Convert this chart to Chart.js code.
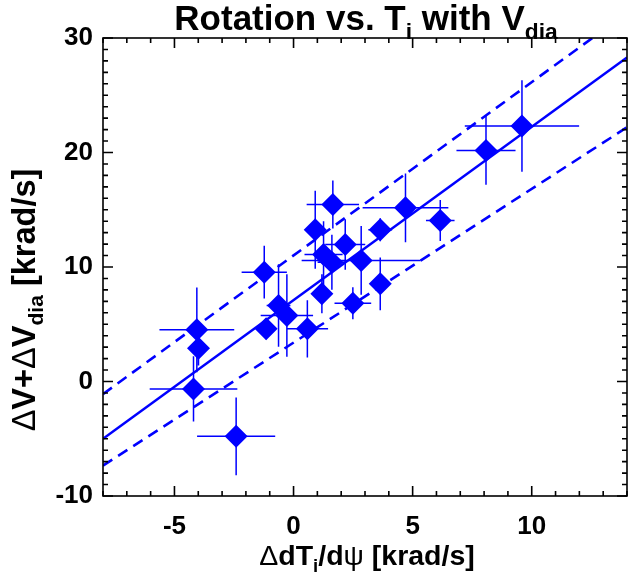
<!DOCTYPE html>
<html lang="en">
  <head>
    <meta charset="UTF-8" />
    <title>Rotation vs. Ti with Vdia</title>
    <script src="https://cdn.jsdelivr.net/npm/chart.js"></script>
    <style>
      body { margin: 0; background: #fff; }
      .chart-box { width: 628px; height: 573px; }
    </style>
  </head>
  <body>
    <div class="chart-box">
      <canvas id="myChart" width="628" height="573"></canvas>
    </div>
    <script>
      const xValues = [-2.41, -4.2, -3.99, -4.06, -1.15, -1.23, -0.63, -0.28, 0.58, 1.19, 0.91, 1.65,
        1.26, 1.61, 2.17, 2.84, 2.49, 3.64, 3.64, 4.7, 6.16, 8.08, 9.59];
      const yValues = [-4.79, -0.65, 2.9, 4.51, 4.6, 9.55, 6.63, 5.76, 4.6, 7.66, 13.25, 15.46,
        11.09, 10.42, 11.97, 10.57, 6.84, 8.53, 13.25, 15.17, 14.06, 20.18, 22.31];
      const xErrors = [1.64, 1.84, 0.3, 1.57, 0.4, 0.95, 0.5, 1.1, 0.87, 0.4, 0.4, 1.1,
        0.8, 0.6, 0.84, 2.5, 0.77, 0.4, 0.5, 1.8, 0.6, 1.24, 2.4];
      const yErrors = [3.4, 2.85, 1.5, 3.7, 0.9, 2.3, 3.6, 3.6, 2.5, 1.7, 3.4, 2.1,
        2.9, 2.4, 2.2, 3.0, 1.4, 2.3, 1.0, 3.0, 1.8, 3.0, 4.0];

      // fit line and the two dashed bounds
      const lineX = [-8, 14];
      const fitY = [-5.0, 28.3];
      const upperY = [-1.1, 32.2];
      const lowerY = [-7.35, 22.2];

      const xTicks = [-5, 0, 5, 10];
      const yTicks = [-10, 0, 10, 20, 30];

      const blue = "rgb(0,0,255)";
      const fontName = "'Liberation Sans', Arial, sans-serif";

      const points = xValues.map((x, i) => ({ x: x, y: yValues[i] }));
      const errData = [];
      xValues.forEach((x, i) => {
        const y = yValues[i];
        errData.push({ x: x - xErrors[i], y: y }, { x: x + xErrors[i], y: y }, { x: x, y: null });
        errData.push({ x: x, y: y - yErrors[i] }, { x: x, y: y + yErrors[i] }, { x: x, y: null });
      });
      const toLine = (ys) => lineX.map((x, i) => ({ x: x, y: ys[i] }));

      // draw text pieces with subscripts, centred on (cx, cy)
      function drawRich(ctx, parts, cx, cy, size, rotate) {
        ctx.save();
        ctx.translate(cx, cy);
        if (rotate) ctx.rotate(-Math.PI / 2);
        ctx.textBaseline = "alphabetic";
        ctx.textAlign = "left";
        ctx.fillStyle = "#000";
        let total = 0;
        const fonts = parts.map((p) => {
          const s = p.sub ? size * 0.65 : size;
          const f = (p.normal ? "" : "bold ") + s + "px " + fontName;
          ctx.font = f;
          const w = ctx.measureText(p.t).width;
          total += w;
          return { f: f, w: w };
        });
        let x = -total / 2;
        parts.forEach((p, i) => {
          ctx.font = fonts[i].f;
          ctx.fillText(p.t, x, p.sub ? size * 0.25 : 0);
          x += fonts[i].w;
        });
        ctx.restore();
      }

      const decoPlugin = {
        id: "deco",
        afterDatasetsDraw(chart) {
          const { ctx, chartArea: a, scales } = chart;
          const xs = scales.x, ys = scales.y;
          ctx.save();
          ctx.strokeStyle = "#000";
          ctx.lineWidth = 1.6;
          ctx.strokeRect(a.left, a.top, a.right - a.left, a.bottom - a.top);
          ctx.beginPath();
          for (let v = Math.ceil(xs.min); v <= xs.max; v++) {
            const px = xs.getPixelForValue(v);
            const len = v % 5 === 0 ? 10 : 5;
            ctx.moveTo(px, a.bottom); ctx.lineTo(px, a.bottom - len);
            ctx.moveTo(px, a.top); ctx.lineTo(px, a.top + len);
          }
          for (let v = Math.ceil(ys.min); v <= ys.max; v++) {
            const py = ys.getPixelForValue(v);
            const len = v % 10 === 0 ? 10 : 5;
            ctx.moveTo(a.left, py); ctx.lineTo(a.left + len, py);
            ctx.moveTo(a.right, py); ctx.lineTo(a.right - len, py);
          }
          ctx.stroke();
          ctx.restore();

          drawRich(ctx, [{ t: "Rotation vs. T" }, { t: "i", sub: true }, { t: " with V" }, { t: "dia", sub: true }],
            366, 30, 35, false);
          drawRich(ctx, [{ t: "\u0394", normal: true }, { t: "dT" }, { t: "i", sub: true }, { t: "/d" },
            { t: "\u03c8", normal: true }, { t: " [krad/s]" }], 367, 565, 28.5, false);
          drawRich(ctx, [{ t: "\u0394", normal: true }, { t: "V+" }, { t: "\u0394", normal: true }, { t: "V" },
            { t: "dia", sub: true }, { t: " [krad/s]" }], 35, 300, 32.5, true);
        },
      };

      const ctx = document.getElementById("myChart");
      new Chart(ctx, {
        type: "scatter",
        data: {
          datasets: [
            {
              data: points,
              pointStyle: "rectRot",
              pointRadius: 11.5,
              pointHoverRadius: 11.5,
              backgroundColor: blue,
              borderWidth: 0,
            },
            {
              data: errData,
              showLine: true,
              borderColor: blue,
              borderWidth: 1.5,
              pointRadius: 0,
              spanGaps: false,
            },
            {
              data: toLine(fitY),
              showLine: true,
              borderColor: blue,
              borderWidth: 2.6,
              pointRadius: 0,
            },
            {
              data: toLine(upperY),
              showLine: true,
              borderColor: blue,
              borderWidth: 2.6,
              borderDash: [11, 7],
              pointRadius: 0,
            },
            {
              data: toLine(lowerY),
              showLine: true,
              borderColor: blue,
              borderWidth: 2.6,
              borderDash: [11, 7],
              pointRadius: 0,
            },
          ],
        },
        options: {
          responsive: false,
          animation: false,
          layout: { autoPadding: false, padding: { left: 0, top: 38, right: 1, bottom: 0 } },
          plugins: { legend: { display: false }, tooltip: { enabled: false } },
          scales: {
            x: {
              type: "linear",
              min: -8,
              max: 14,
              afterBuildTicks: (s) => { s.ticks = xTicks.map((v) => ({ value: v })); },
              afterFit: (s) => { s.height = 77; s.paddingLeft = 0; s.paddingRight = 0; },
              grid: { display: false },
              border: { display: false },
              ticks: { color: "#000", padding: 7, font: { family: fontName, size: 26, weight: "bold" } },
            },
            y: {
              type: "linear",
              min: -10,
              max: 30,
              afterBuildTicks: (s) => { s.ticks = yTicks.map((v) => ({ value: v })); },
              afterFit: (s) => { s.width = 103; s.paddingTop = 0; s.paddingBottom = 0; },
              grid: { display: false },
              border: { display: false },
              ticks: { color: "#000", padding: 2, font: { family: fontName, size: 26, weight: "bold" } },
            },
          },
        },
        plugins: [decoPlugin],
      });
    </script>
  </body>
</html>
